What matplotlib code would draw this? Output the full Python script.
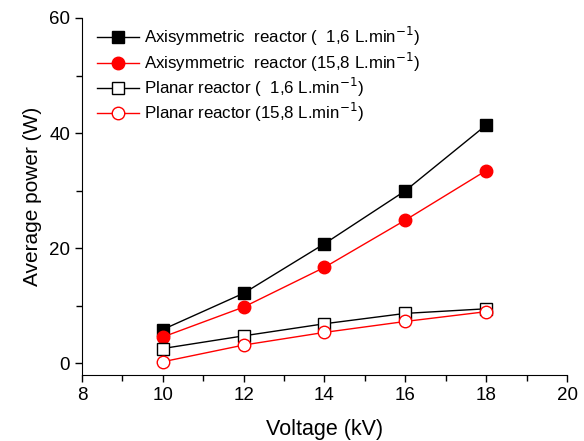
import matplotlib
matplotlib.use("Agg")
import matplotlib.pyplot as plt
from matplotlib.ticker import MultipleLocator

plt.rcParams['font.family'] = ['Liberation Sans', 'DejaVu Sans']

voltage = [10, 12, 14, 16, 18]
axi_16 = [5.9, 12.2, 20.8, 30.0, 41.4]
axi_158 = [4.6, 9.8, 16.7, 24.9, 33.5]
pla_16 = [2.6, 4.8, 6.9, 8.7, 9.5]
pla_158 = [0.3, 3.2, 5.4, 7.3, 9.0]

labels = [
    "Axisymmetric  reactor (  1,6 L.min$^{-1}$)",
    "Axisymmetric  reactor (15,8 L.min$^{-1}$)",
    "Planar reactor (  1,6 L.min$^{-1}$)",
    "Planar reactor (15,8 L.min$^{-1}$)",
]

fig = plt.figure(figsize=(5.84, 4.41), dpi=100)
ax = fig.add_axes([82/584, 1-375/441, (567-82)/584, (375-18)/441])

ax.plot(voltage, axi_16, color='black', lw=1, marker='s', ms=8, mfc='black', mec='black', label=labels[0])
ax.plot(voltage, axi_158, color='red', lw=1, marker='o', ms=9, mfc='red', mec='red', label=labels[1])
ax.plot(voltage, pla_16, color='black', lw=1, marker='s', ms=8, mfc='white', mec='black', mew=1, label=labels[2])
ax.plot(voltage, pla_158, color='red', lw=1, marker='o', ms=9, mfc='white', mec='red', mew=1, label=labels[3])

ax.set_xlim(8, 20)
ax.set_ylim(-2, 60)
ax.xaxis.set_major_locator(MultipleLocator(2))
ax.xaxis.set_minor_locator(MultipleLocator(1))
ax.yaxis.set_major_locator(MultipleLocator(20))
ax.yaxis.set_minor_locator(MultipleLocator(10))
ax.tick_params(which='both', direction='out', labelsize=13.5, width=1)
ax.tick_params(which='major', length=5)
ax.tick_params(which='minor', length=4)
ax.spines['top'].set_visible(False)
ax.spines['right'].set_visible(False)
ax.set_xlabel("Voltage (kV)", fontsize=15.5, labelpad=11)
ax.set_ylabel("Average power (W)", fontsize=15, labelpad=5)

leg = ax.legend(loc='upper left', frameon=False, fontsize=12.2, handlelength=2.5,
                bbox_to_anchor=(0.01, 1.008), labelspacing=0.12, handletextpad=0.3,
                borderaxespad=0.2)

fig.savefig("out.png", dpi=100)
